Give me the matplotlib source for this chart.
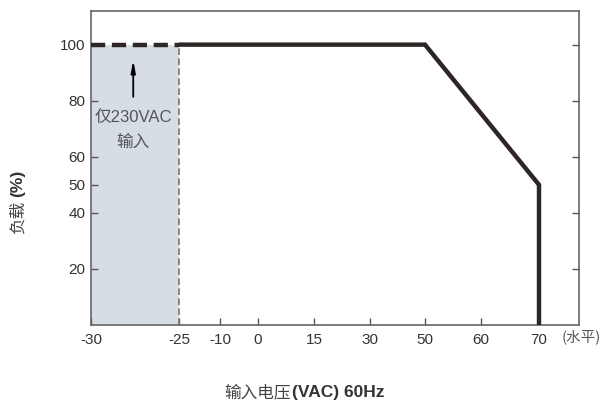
import numpy as np
import matplotlib
matplotlib.use("Agg")
import matplotlib.pyplot as plt

plt.rcParams['font.family'] = ['Liberation Sans Narrow', 'Liberation Sans', 'Noto Sans CJK SC']

# data
temp_dashed = [-30, -25]
load_dashed = [100, 100]
temp_curve = [-25, 50, 70, 70]
load_curve = [100, 100, 50, 0]
shade_range = [-30, -25]
shade_top = 100
x_ticks = [-30, -25, -10, 0, 15, 30, 50, 60, 70]
y_ticks_left = [20, 40, 50, 60, 80, 100]
y_ticks_right = [20, 40, 60, 80, 100]

# non-linear x axis (positions of ticks on the printed scale)
_pos = [0, 88, 129, 167, 223, 279, 334, 390, 448, 488]
_val = [-30, -25, -10, 0, 15, 30, 50, 60, 70, 77]

def fwd(x):
    return np.interp(x, _val, _pos)

def inv(p):
    return np.interp(p, _pos, _val)

fig = plt.figure(figsize=(6.04, 4.08), dpi=100)
ax = fig.add_axes([91/604, 1 - 325/408, 488/604, 314/408])
ax.set_xscale('function', functions=(fwd, inv))
ax.set_xlim(-30, 77)
ax.set_ylim(0, 112)

line_c = '#2e2624'
ax.fill_between(shade_range, 0, shade_top, color='#d6dde5', lw=0, zorder=1)
ax.plot([shade_range[1]] * 2, [0, shade_top], color='#777777', lw=1.2,
        dashes=(4, 2), zorder=2)
ax.plot(temp_dashed, load_dashed, color=line_c, lw=3.2, dashes=(3.2, 1.5),
        solid_capstyle='butt', dash_capstyle='butt', zorder=3)
ax.plot(temp_curve, load_curve, color=line_c, lw=3.2, solid_joinstyle='miter',
        solid_capstyle='butt', zorder=3)

ax.annotate('', xy=(-27.6, 95.5), xytext=(-27.6, 80.4),
            arrowprops=dict(arrowstyle='-|>,head_length=0.7,head_width=0.13',
                            color='black', lw=1.3))
ax.text(-27.6, 74, '仅230VAC', ha='center', va='center', fontsize=12, color='#555555')
ax.text(-27.6, 65, '输入', ha='center', va='center', fontsize=12, color='#555555',
        family=['Noto Sans CJK SC'])

for s in ax.spines.values():
    s.set_color('#666666')
    s.set_linewidth(1.2)

ax.set_xticks(x_ticks)
ax.set_xticklabels([str(v) for v in x_ticks])
ax.set_yticks(y_ticks_left)
ax.tick_params(direction='in', length=5, width=1, color='#555555',
               labelsize=11, labelcolor='#333333')
ax.tick_params(axis='x', pad=6)
ax.tick_params(axis='y', pad=4)

ax2 = ax.twinx()
ax2.set_ylim(ax.get_ylim())
ax2.set_yticks(y_ticks_right)
ax2.tick_params(direction='in', length=5, width=1, color='#555555', labelright=False)
for s in ax2.spines.values():
    s.set_visible(False)

fig.text(562/604, 1 - 337/408, '(水平)', ha='left', va='center',
         fontsize=10.5, color='#555555', family=['Noto Sans CJK SC'])

# axis titles
fig.text(291/604, 1 - 393/408, '输入电压', ha='right', va='center', fontsize=12,
         color='#444444', family=['Noto Sans CJK SC'])
fig.text(292/604, 1 - 393/408, '(VAC) 60Hz', ha='left', va='center', fontsize=12.5,
         fontweight='bold', color='#333333')
fig.text(18/604, 1 - 234/408, '负载', rotation=90, ha='center', va='bottom',
         fontsize=12, color='#444444', family=['Noto Sans CJK SC'])
fig.text(18/604, 1 - 197/408, '(%)', rotation=90, ha='center', va='bottom',
         fontsize=12.5, fontweight='bold', color='#333333')

fig.savefig('out.png', dpi=100)
